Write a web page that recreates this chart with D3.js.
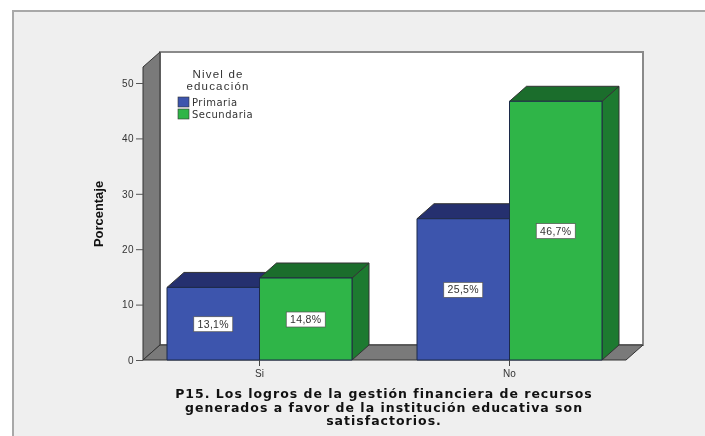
<!DOCTYPE html>
<html>
<head>
<meta charset="utf-8">
<script src="https://cdn.jsdelivr.net/npm/d3@7"></script>
<style>
  html, body { margin: 0; padding: 0; background: #fff; overflow: hidden; }
  svg { display: block; filter: blur(0.7px); }
  text { font-family: "Liberation Sans", Arial, sans-serif; }
</style>
</head>
<body>
<svg id="chart" width="705" height="436"></svg>
<script>
// Barras 3D estilo SPSS: porcentaje por nivel de educacion
const categories = ["Si", "No"];
const seriesNames = ["Primaria", "Secundaria"];
const primaria = [13.1, 25.5];
const secundaria = [14.8, 46.7];
const barLabels = [["13,1%", "25,5%"], ["14,8%", "46,7%"]];
const yTicks = [0, 10, 20, 30, 40, 50];
const yTitle = "Porcentaje";
const legendTitle = ["Nivel de", "educación"];
const xTitle = [
  "P15. Los logros de la gestión financiera de recursos",
  "generados a favor de la institución educativa son",
  "satisfactorios."
];

const colors = [
  { front: "#3d55ad", top: "#25306f", side: "#223a80" },
  { front: "#2fb548", top: "#1b6d2c", side: "#1d7a30" }
];

const svg = d3.select("#chart");

// marco exterior: solo se ven el borde superior y el izquierdo
svg.append("rect").attr("x", 13).attr("y", 11).attr("width", 720).attr("height", 450)
  .attr("fill", "#efefef").attr("stroke", "#a8a8a8").attr("stroke-width", 2);

const dx = 17, dy = -15;
const y = d3.scaleLinear().domain([0, 50]).range([360, 83]);
const yTop = 67;
const left = 143, right = 626;
// paso de 250 px entre grupos y 185 px de ancho por grupo
const x0 = d3.scaleBand().domain(categories).range([left, right]).paddingInner(0.26).paddingOuter(0.096);
const x1 = d3.scaleBand().domain(seriesNames).range([0, x0.bandwidth()]);

const poly = (pts, fill, stroke = "#333", w = 1) => svg.append("polygon")
  .attr("points", pts.map((p) => p.join(",")).join(" "))
  .attr("fill", fill).attr("stroke", stroke).attr("stroke-width", w);

// pared de fondo, pared lateral y piso
poly([[left + dx, yTop + dy], [right + dx, yTop + dy], [right + dx, 360 + dy], [left + dx, 360 + dy]], "#fff", "#8a8a8a", 2);
poly([[left, yTop], [left + dx, yTop + dy], [left + dx, 360 + dy], [left, 360]], "#7a7a7a");
poly([[left, 360], [left + dx, 360 + dy], [right + dx, 360 + dy], [right, 360]], "#7a7a7a");

// eje Y
const yAxis = svg.append("g").attr("transform", `translate(${left},0)`)
  .call(d3.axisLeft(y).tickValues(yTicks).tickSize(7).tickPadding(2));
yAxis.select(".domain").remove();
yAxis.selectAll("line").attr("stroke", "#555");
yAxis.selectAll("text").attr("fill", "#333").style("font-size", "10px").style("letter-spacing", "0.4px");

svg.append("text").attr("transform", "translate(103,214) rotate(-90) scale(1.08,1)")
  .attr("text-anchor", "middle").attr("fill", "#111")
  .style("font-size", "12px").style("font-weight", "bold").text(yTitle);

// barras: primero la serie de atras para que el frente quede encima
categories.forEach((cat, ci) => {
  [primaria, secundaria].forEach((vals, si) => {
    const xa = x0(cat) + x1(seriesNames[si]);
    const xb = xa + x1.bandwidth();
    const yv = y(vals[ci]);
    const c = colors[si];
    poly([[xb, yv], [xb + dx, yv + dy], [xb + dx, 360 + dy], [xb, 360]], c.side);
    poly([[xa, yv], [xa + dx, yv + dy], [xb + dx, yv + dy], [xb, yv]], c.top);
    poly([[xa, yv], [xb, yv], [xb, 360], [xa, 360]], c.front, "#1c2a4a");
  });
});

// etiquetas de valor
categories.forEach((cat, ci) => {
  [primaria, secundaria].forEach((vals, si) => {
    const cx = x0(cat) + x1(seriesNames[si]) + x1.bandwidth() / 2;
    const cy = y(vals[ci] / 2);
    svg.append("rect").attr("x", cx - 19.5).attr("y", cy - 7).attr("width", 39).attr("height", 15)
      .attr("fill", "#fff").attr("stroke", "#555").attr("stroke-width", 0.7);
    svg.append("text").attr("x", cx).attr("y", cy + 4).attr("text-anchor", "middle")
      .attr("fill", "#333").style("font-size", "10.5px").style("letter-spacing", "0.3px").text(barLabels[si][ci]);
  });
});

// eje X
categories.forEach((cat) => {
  const cx = x0(cat) + x0.bandwidth() / 2;
  svg.append("line").attr("x1", cx).attr("x2", cx).attr("y1", 360).attr("y2", 366).attr("stroke", "#444");
  svg.append("text").attr("x", cx).attr("y", 377).attr("text-anchor", "middle")
    .attr("fill", "#333").style("font-size", "10px").text(cat);
});

xTitle.forEach((line, i) => {
  svg.append("text").attr("x", 384).attr("y", 398 + i * 13.5).attr("text-anchor", "middle")
    .attr("fill", "#111").style("font-family", "'DejaVu Sans'").style("font-size", "12.5px")
    .style("font-weight", "bold").style("letter-spacing", "1px").text(line);
});

// leyenda
legendTitle.forEach((line, i) => {
  svg.append("text").attr("x", 218).attr("y", 78 + i * 11.5).attr("text-anchor", "middle")
    .attr("fill", "#333").style("font-size", "11.5px").style("letter-spacing", "1.2px").text(line);
});
seriesNames.forEach((name, i) => {
  svg.append("rect").attr("x", 178).attr("y", 97 + i * 12).attr("width", 11).attr("height", 10)
    .attr("fill", colors[i].front).attr("stroke", "#333").attr("stroke-width", 0.6);
  svg.append("text").attr("x", 192).attr("y", 106 + i * 12)
    .attr("fill", "#333").style("font-family", "'DejaVu Sans'").style("font-size", "10px")
    .style("letter-spacing", "0.5px").text(name);
});
</script>
</body>
</html>
